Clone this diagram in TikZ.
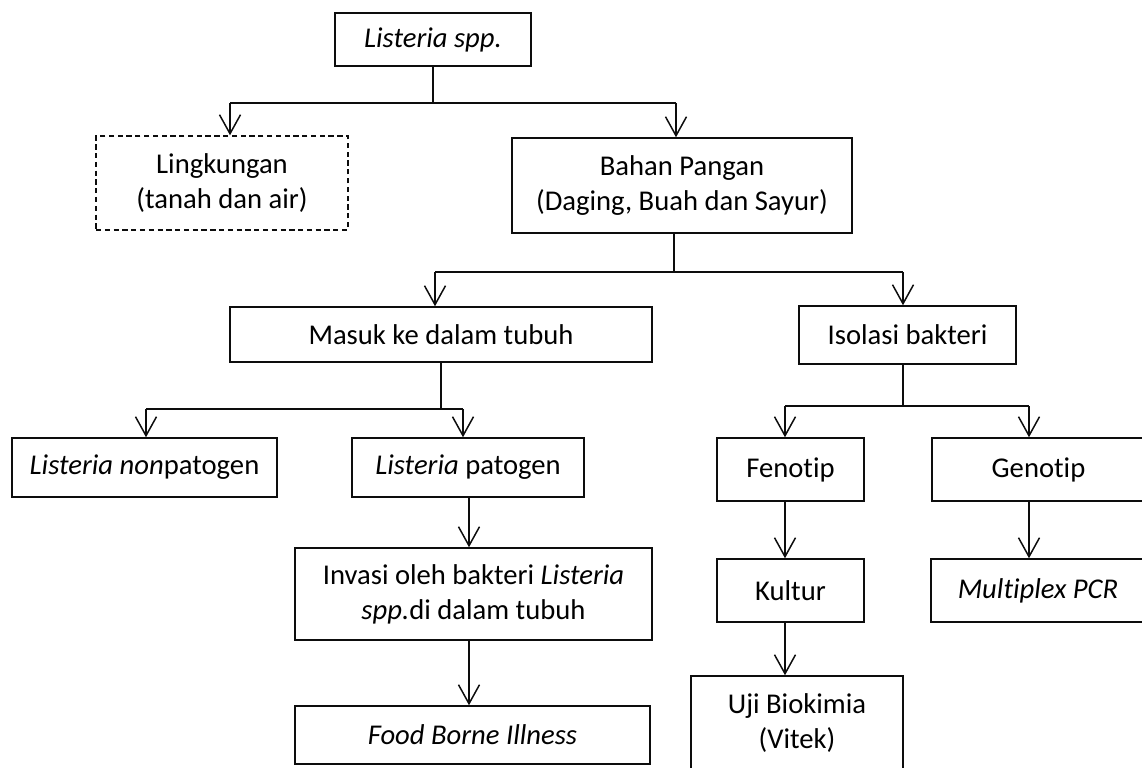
\documentclass[tikz,border=0pt]{standalone}
\usepackage{fontspec}
\setmainfont{Carlito}[Ligatures=NoCommon]
\usetikzlibrary{arrows.meta}
\definecolor{ink}{gray}{0.05}

\begin{document}
\begin{tikzpicture}[x=0.02cm, y=-0.02cm, line width=0.85pt, draw=ink,
   box/.style={draw=ink, line width=0.85pt, inner sep=0pt, align=center,
      font=\fontsize{16.3}{19.8}\selectfont},
   dbox/.style={box, dash pattern=on 3pt off 2pt},
   arr/.style={-{Straight Barb[length=3.8mm, width=4.2mm]}}]
  \useasboundingbox (0,0) rectangle (1142,767);
  % top level
  \node[box, minimum width=3.92cm, minimum height=1.06cm](top) at (433,39.5){\textit{Listeria spp.}};
  \node[dbox, minimum width=5.04cm, minimum height=1.88cm](env) at (222,183){Lingkungan\\(tanah dan air)};
  \node[box, minimum width=6.80cm, minimum height=1.90cm](food) at (682,185.5){Bahan Pangan\\(Daging, Buah dan Sayur)};
  \coordinate (r1a) at (230,103); \coordinate (r1b) at (676,103);
  \draw (top) -- (top |- r1a);
  \draw (r1a) -- (r1b);
  \draw[arr] (r1a) -- (r1a |- env.north);
  \draw[arr] (r1b) -- (r1b |- food.north);
  % second level
  \node[box, minimum width=8.44cm, minimum height=1.10cm](body) at (441,334.5){Masuk ke dalam tubuh};
  \node[box, minimum width=4.34cm, minimum height=1.16cm](iso) at (907.5,335){Isolasi bakteri};
  \coordinate (r2a) at (435,272); \coordinate (r2b) at (903,272); \coordinate (r2m) at (674,272);
  \draw (food.south -| r2m) -- (r2m);
  \draw (r2a) -- (r2b);
  \draw[arr] (r2a) -- (r2a |- body.north);
  \draw[arr] (r2b) -- (r2b |- iso.north);
  % body branch
  \node[box, minimum width=5.30cm, minimum height=1.18cm](nonpat) at (144.5,467.5){\textit{Listeria non}patogen};
  \node[box, minimum width=4.64cm, minimum height=1.18cm](pat) at (468,467.5){\textit{Listeria} patogen};
  \node[box, minimum width=7.14cm, minimum height=1.84cm](inv) at (473.5,594){Invasi oleh bakteri \textit{Listeria}\\\textit{spp.}di dalam tubuh};
  \node[box, minimum width=7.10cm, minimum height=1.16cm](fbi) at (472.5,735){\textit{Food Borne Illness}};
  \coordinate (r3a) at (146,409); \coordinate (r3b) at (463,409); \coordinate (r4) at (469,520);
  \draw (body) -- (body |- r3a);
  \draw (r3a) -- (r3b);
  \draw[arr] (r3a) -- (r3a |- nonpat.north);
  \draw[arr] (r3b) -- (r3b |- pat.north);
  \draw[arr] (pat.south -| r4) -- (inv.north -| r4);
  \draw[arr] (inv.south -| r4) -- (fbi.north -| r4);
  % isolation branch
  \node[box, minimum width=2.94cm, minimum height=1.26cm](feno) at (790.5,469.5){Fenotip};
  \node[box, minimum width=4.26cm, minimum height=1.26cm](geno) at (1038.5,469.5){Genotip};
  \node[box, minimum width=2.94cm, minimum height=1.26cm](kult) at (790.5,590.5){Kultur};
  \node[box, minimum width=4.28cm, minimum height=1.26cm](mpcr) at (1038,590.5){\textit{Multiplex PCR}};
  \node[box, minimum width=4.24cm, minimum height=1.88cm](uji) at (797,723){Uji Biokimia\\(Vitek)};
  \coordinate (r3c) at (785,406); \coordinate (r3d) at (1029,406); \coordinate (r3m) at (903,406);
  \draw (iso.south -| r3m) -- (r3m);
  \draw (r3c) -- (r3d);
  \draw[arr] (r3c) -- (r3c |- feno.north);
  \draw[arr] (r3d) -- (r3d |- geno.north);
  \draw[arr] (feno.south -| r3c) -- (kult.north -| r3c);
  \draw[arr] (kult.south -| r3c) -- (uji.north -| r3c);
  \draw[arr] (geno.south -| r3d) -- (mpcr.north -| r3d);
\end{tikzpicture}
\end{document}
